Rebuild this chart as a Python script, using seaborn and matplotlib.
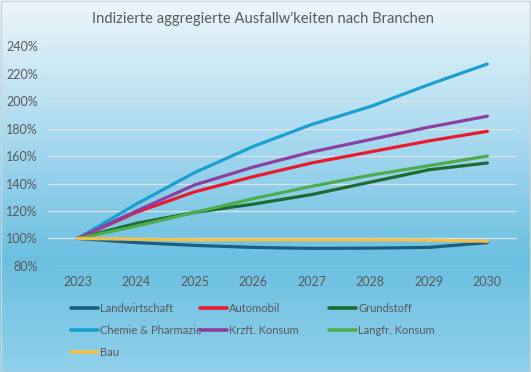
import numpy as np
import pandas as pd
import seaborn as sns
import matplotlib.pyplot as plt
from matplotlib.colors import LinearSegmentedColormap
from matplotlib.ticker import FuncFormatter

years = [2023, 2024, 2025, 2026, 2027, 2028, 2029, 2030]

landwirtschaft = [100, 97, 95, 93.5, 92.8, 93, 93.5, 97]
automobil = [100, 119, 134, 145, 155, 163, 171, 178]
grundstoff = [100, 111, 119, 125, 132, 141, 150, 155]
chemie = [100, 125, 148, 167, 183, 196, 212, 227]
krzft = [100, 120, 139, 152, 163, 172, 181, 189]
langfr = [100, 109, 119, 129, 138, 146, 153, 160]
bau = [100, 99.5, 99, 99, 99, 99, 98.8, 98]

series = {
    "Landwirtschaft": landwirtschaft,
    "Automobil": automobil,
    "Grundstoff": grundstoff,
    "Chemie & Pharmazie": chemie,
    "Krzft. Konsum": krzft,
    "Langfr. Konsum": langfr,
    "Bau": bau,
}
colors = ["#1b5e80", "#ea1a2e", "#1c6b32", "#199fd0", "#8b3f9f", "#4eac4e", "#f2c04a"]

df = pd.DataFrame(
    [(y, name, v) for name, vals in series.items() for y, v in zip(years, vals)],
    columns=["Jahr", "Branche", "Wert"],
)

sns.set_style("white")
plt.rcParams["font.family"] = ["Lato", "DejaVu Sans"]

fig = plt.figure(figsize=(5.31, 3.72), dpi=100)

# background gradient
bg = fig.add_axes([0, 0, 1, 1], zorder=-1)
cmap = LinearSegmentedColormap.from_list(
    "bg", [(0, "#8fd0ea"), (0.3, "#6bbfe1"), (0.6, "#a3d7ee"), (1, "#ecf6fb")]
)
grad = np.linspace(0, 1, 256).reshape(-1, 1)
bg.imshow(grad, aspect="auto", cmap=cmap, origin="lower", extent=[0, 1, 0, 1])
bg.set_xlim(0, 1)
bg.set_ylim(0, 1)
bg.axis("off")
bg.add_patch(plt.Rectangle((0.001, 0.001), 0.997, 0.996, fill=False,
                           edgecolor="#c8d4dc", lw=1))

ax = fig.add_axes([0.09, 0.285, 0.884, 0.591])
ax.patch.set_alpha(0)
sns.lineplot(data=df, x="Jahr", y="Wert", hue="Branche", palette=colors,
             linewidth=2.3, ax=ax, legend=True)

ax.set_xlim(2022.49, 2030.51)
ax.set_ylim(80, 240)
ax.set_yticks(range(80, 241, 20))
ax.set_xticks(years)
ax.yaxis.set_major_formatter(FuncFormatter(lambda v, p: f"{v:.0f}%"))
ax.grid(axis="y", color="#d9e3e8", lw=0.9)
ax.set_axisbelow(True)
for s in ax.spines.values():
    s.set_visible(False)
ax.tick_params(axis="both", length=0, labelsize=9, colors="#595959", pad=7)
ax.set_xlabel("")
ax.set_ylabel("")

handles, labels = ax.get_legend_handles_labels()
ax.legend_.remove()
# legend laid out row by row in three fixed columns
for c, x0 in enumerate([71 / 531, 200 / 531, 329 / 531]):
    idx = list(range(c, len(labels), 3))
    leg = fig.legend([handles[i] for i in idx], [labels[i] for i in idx],
                     loc="upper left", bbox_to_anchor=(x0, 1 - 303 / 372),
                     frameon=False, fontsize=8, labelcolor="#595959",
                     handlelength=2.4, handletextpad=0.25, labelspacing=1.0,
                     borderpad=0, borderaxespad=0)
    for h in leg.legend_handles:
        h.set_linewidth(2.6)

fig.text(0.495, 0.949, "Indizierte aggregierte Ausfallw'keiten nach Branchen",
         ha="center", va="center", fontsize=10.6, color="#595959")

fig.savefig("out.png", dpi=100)
